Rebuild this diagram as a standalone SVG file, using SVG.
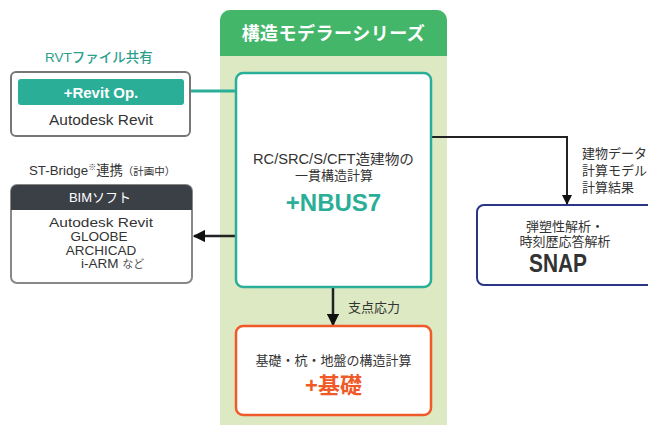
<svg xmlns="http://www.w3.org/2000/svg" width="648" height="425" viewBox="0 0 648 425">
<defs>
<style>
text{font-family:"Liberation Sans","Noto Sans CJK JP",sans-serif;fill:#333;}
.c{text-anchor:middle;}
.t13{font-size:13px;}
.w{fill:#fff;}
.b{font-weight:bold;}
.conn{stroke:#222;stroke-width:2.5;fill:none;}
</style>
<marker id="ah" viewBox="0 0 10 10" refX="9" refY="5" markerWidth="5" markerHeight="5" markerUnits="strokeWidth" orient="auto">
<path d="M0,0 L10,5 L0,10 Z" fill="#111"/>
</marker>
</defs>
<rect width="648" height="425" fill="#fff"/>
<g id="series">
<path d="M220,425 V20 a10,10 0 0 1 10,-10 H437 a10,10 0 0 1 10,10 V425 Z" fill="#dce9c3"/>
<path d="M220,56 V20 a10,10 0 0 1 10,-10 H437 a10,10 0 0 1 10,10 V56 Z" fill="#44b66a"/>
<text x="333.5" y="40" class="c w b" font-size="18" letter-spacing="0.5">構造モデラーシリーズ</text>
</g>
<g id="connectors">
<line x1="184" y1="91" x2="236" y2="91" stroke="#2aae97" stroke-width="3"/>
<line x1="236" y1="236" x2="194" y2="236" class="conn" marker-end="url(#ah)"/>
<polyline points="431,137 567,137 567,204" stroke="#222" stroke-width="2" fill="none" marker-end="url(#ah)"/>
<line x1="333" y1="287" x2="333" y2="325" class="conn" marker-end="url(#ah)"/>
<text x="348" y="312" class="t13">支点応力</text>
<text x="582" y="158" class="t13">建物データ</text>
<text x="582" y="175" class="t13">計算モデル</text>
<text x="582" y="192" class="t13">計算結果</text>
</g>
<g id="revit">
<text x="99" y="62" class="c" font-size="13.5" style="fill:#2aa08c;font-weight:500">RVTファイル共有</text>
<rect x="11" y="72" width="179" height="64" rx="5" fill="#fff" stroke="#777" stroke-width="2"/>
<rect x="18" y="79" width="166" height="26" rx="3" fill="#2aae97"/>
<text x="101" y="97.5" class="c w b" font-size="15">+Revit Op.</text>
<text x="101" y="125" class="c" font-size="14" textLength="104" lengthAdjust="spacingAndGlyphs">Autodesk Revit</text>
</g>
<g id="bim">
<text x="29" y="175" font-size="13.3">ST-Bridge<tspan font-size="8" dy="-5">※</tspan><tspan dy="5">連携</tspan><tspan font-size="10.5">（計画中）</tspan></text>
<rect x="11" y="185" width="181" height="98" rx="6" fill="#fff" stroke="#888" stroke-width="2"/>
<path d="M11,210 V191 a6,6 0 0 1 6,-6 H186 a6,6 0 0 1 6,6 V210 Z" fill="#3b4047"/>
<text x="100" y="202" class="c w t13">BIMソフト</text>
<text x="101" y="227" class="c" font-size="13.5" textLength="104" lengthAdjust="spacingAndGlyphs">Autodesk Revit</text>
<text x="99" y="241" class="c" font-size="13.5">GLOOBE</text>
<text x="101" y="254.5" class="c" font-size="13.5">ARCHICAD</text>
<text x="81" y="268" font-size="13.5">i-ARM <tspan font-size="11" style="fill:#555">など</tspan></text>
</g>
<g id="nbus">
<rect x="236" y="73" width="195" height="214" rx="7" fill="#fff" stroke="#2aae97" stroke-width="2.5"/>
<text x="333.5" y="164" class="c" font-size="14" textLength="161" lengthAdjust="spacingAndGlyphs">RC/SRC/S/CFT造建物の</text>
<text x="334" y="180" class="c t13">一貫構造計算</text>
<text x="333.5" y="211" class="c b" font-size="24" style="fill:#2aae97">+NBUS7</text>
</g>
<g id="snap">
<rect x="477" y="205" width="180" height="80" rx="7" fill="#fff" stroke="#2a3585" stroke-width="2"/>
<text x="565" y="231" class="c t13">弾塑性解析・</text>
<text x="565" y="246" class="c t13">時刻歴応答解析</text>
<text x="558" y="272" class="c b" font-size="25" textLength="58" lengthAdjust="spacingAndGlyphs">SNAP</text>
</g>
<g id="kiso">
<rect x="236" y="326" width="195" height="89" rx="7" fill="#fff" stroke="#f05a28" stroke-width="2.5"/>
<text x="333.5" y="365" class="c t13">基礎・杭・地盤の構造計算</text>
<text x="333.5" y="393" class="c b" font-size="22" style="fill:#f05a28">+基礎</text>
</g>
</svg>
